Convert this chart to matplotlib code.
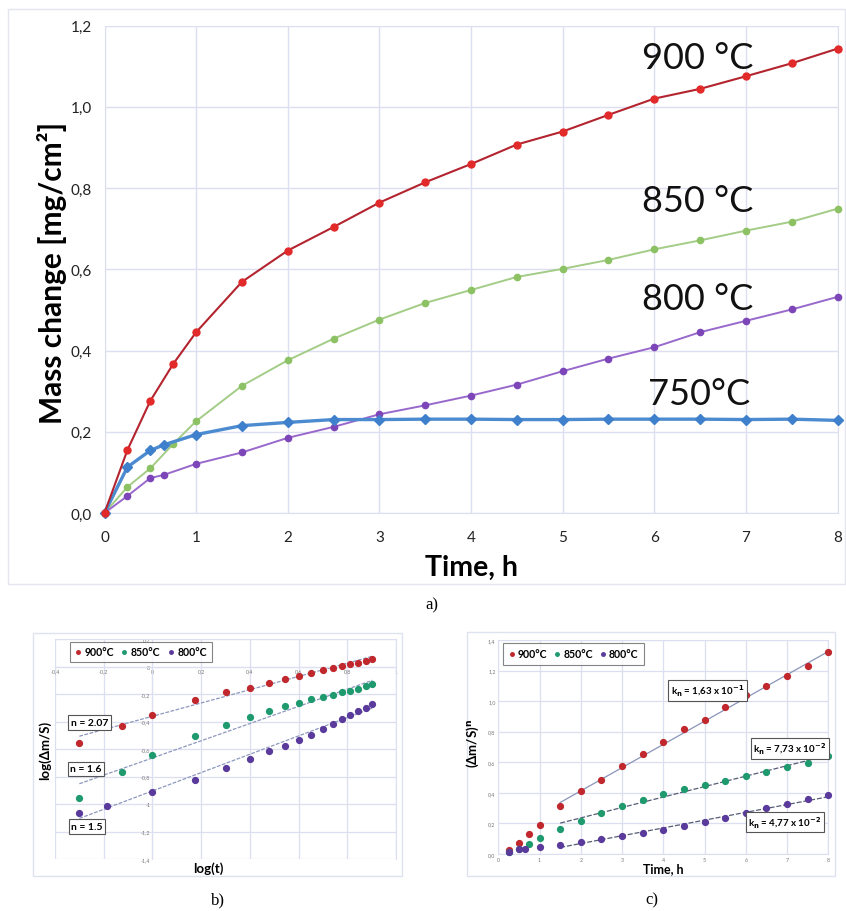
import numpy as np
import matplotlib
matplotlib.use("Agg")
import matplotlib.pyplot as plt
from matplotlib.patches import Rectangle
from matplotlib.ticker import FuncFormatter

plt.rcParams['font.family'] = ['Lato', 'DejaVu Sans']
plt.rcParams['mathtext.fontset'] = 'dejavusans'

# ---------------- data: panel a ----------------
time_rg = [0, 0.25, 0.5, 0.75, 1, 1.5, 2, 2.5, 3, 3.5, 4, 4.5, 5, 5.5, 6, 6.5, 7, 7.5, 8]
time_pb = [0, 0.25, 0.5, 0.65, 1, 1.5, 2, 2.5, 3, 3.5, 4, 4.5, 5, 5.5, 6, 6.5, 7, 7.5, 8]
mass_900 = [0, 0.155, 0.276, 0.367, 0.445, 0.569, 0.646, 0.704, 0.764, 0.814, 0.859,
            0.907, 0.939, 0.980, 1.020, 1.044, 1.075, 1.107, 1.143]
mass_850 = [0, 0.064, 0.110, 0.170, 0.226, 0.313, 0.376, 0.429, 0.476, 0.517, 0.549,
            0.581, 0.601, 0.623, 0.649, 0.671, 0.695, 0.717, 0.749]
mass_800 = [0, 0.042, 0.086, 0.094, 0.121, 0.149, 0.185, 0.212, 0.243, 0.265, 0.289,
            0.316, 0.349, 0.380, 0.408, 0.445, 0.473, 0.501, 0.532]
mass_750 = [0, 0.113, 0.154, 0.168, 0.193, 0.215, 0.223, 0.230, 0.230, 0.231, 0.231,
            0.230, 0.230, 0.231, 0.231, 0.231, 0.230, 0.231, 0.228]
labels_a = ["900 °C", "850 °C", "800 °C", "750°C"]

# ---------------- data: panel b ----------------
logt_rg = [-0.30, -0.125, 0, 0.176, 0.30, 0.40, 0.477, 0.544, 0.602, 0.653, 0.70,
           0.74, 0.778, 0.813, 0.845, 0.875, 0.903]
logt_p = [-0.30, -0.187, 0, 0.176, 0.30, 0.40, 0.477, 0.544, 0.602, 0.653, 0.70,
          0.74, 0.778, 0.813, 0.845, 0.875, 0.903]
logm_900 = [-0.558, -0.434, -0.352, -0.247, -0.189, -0.155, -0.119, -0.092, -0.068,
            -0.044, -0.029, -0.012, 0.005, 0.015, 0.029, 0.041, 0.053]
logm_850 = [-0.958, -0.764, -0.647, -0.502, -0.427, -0.366, -0.320, -0.288, -0.262,
            -0.238, -0.221, -0.206, -0.189, -0.175, -0.160, -0.145, -0.126]
logm_800 = [-1.064, -1.018, -0.914, -0.822, -0.735, -0.672, -0.616, -0.575, -0.538,
            -0.499, -0.456, -0.419, -0.385, -0.354, -0.322, -0.300, -0.276]
n_labels = ["n = 2.07", "n = 1.6", "n = 1.5"]
n_slope = [0.483, 0.625, 0.667]
n_intercept = [-0.362, -0.665, -0.905]

# ---------------- data: panel c ----------------
tc_rg = [0.25, 0.5, 0.75, 1, 1.5, 2, 2.5, 3, 3.5, 4, 4.5, 5, 5.5, 6, 6.5, 7, 7.5, 8]
tc_p = [0.25, 0.5, 0.65, 1, 1.5, 2, 2.5, 3, 3.5, 4, 4.5, 5, 5.5, 6, 6.5, 7, 7.5, 8]
mn_900 = [0.028, 0.072, 0.131, 0.192, 0.313, 0.409, 0.485, 0.576, 0.654, 0.733, 0.820,
          0.876, 0.961, 1.043, 1.096, 1.163, 1.233, 1.320]
mn_850 = [0.012, 0.030, 0.065, 0.105, 0.163, 0.217, 0.270, 0.313, 0.354, 0.391, 0.428,
          0.452, 0.478, 0.511, 0.537, 0.570, 0.596, 0.639]
mn_800 = [0.013, 0.033, 0.033, 0.046, 0.059, 0.080, 0.098, 0.120, 0.137, 0.159, 0.180,
          0.211, 0.237, 0.267, 0.300, 0.330, 0.357, 0.389]
kn_labels = [r"k$_{\mathbf{n}}$ = 1,63 x 10$^{\mathbf{-1}}$",
             r"k$_{\mathbf{n}}$ = 7,73 x 10$^{\mathbf{-2}}$",
             r"k$_{\mathbf{n}}$ = 4,77 x 10$^{\mathbf{-2}}$"]
kn_slope = [0.152, 0.0683, 0.051]
kn_intercept = [0.109, 0.0995, -0.0335]
legend_labels = ["900°C", "850°C", "800°C"]

# ---------------- layout helpers ----------------
W, H = 846, 912
fig = plt.figure(figsize=(W / 100, H / 100), dpi=100)
fig.patch.set_facecolor("white")


def rect(l, t, r, b):
    return [l / W, 1 - b / H, (r - l) / W, (b - t) / H]


def ftext(x, y, s, **kw):
    return fig.text(x / W, 1 - y / H, s, **kw)


def frame(l, t, r, b, color="#dfe2ef"):
    fig.patches.append(Rectangle((l / W, 1 - b / H), (r - l) / W, (b - t) / H,
                                 transform=fig.transFigure, fill=False,
                                 ec=color, lw=1.0))


def comma(v, dec=1, strip=False):
    s = f"{v:.{dec}f}"
    if strip and s.endswith(".0"):
        s = s[:-2]
    s = s.replace(".", ",")
    if s in ("-0", "-0,0"):
        s = s.lstrip("-")
    return s


GRID = "#dcdff0"

# ================= panel a =================
frame(8, 10, 845, 585, "#e3e5f0")
ax = fig.add_axes(rect(104.5, 26.5, 837.5, 514))
ax.set_xlim(0, 8)
ax.set_ylim(0, 1.2)
ax.set_xticks(range(9))
ax.set_yticks(np.round(np.arange(0, 1.21, 0.2), 1))
ax.yaxis.set_major_formatter(FuncFormatter(lambda v, p: comma(v)))
ax.grid(True, color=GRID, lw=1)
ax.set_axisbelow(True)
for s in ax.spines.values():
    s.set_color(GRID)
ax.tick_params(length=0, labelsize=11, colors="#222222")
ax.tick_params(axis="x", pad=12)
ax.tick_params(axis="y", pad=9)

ax.plot(time_rg, mass_850, color="#a3cc86", lw=1.4, marker="o", ms=4.5,
        mfc="#8cc264", mec="#8cc264", clip_on=False, zorder=3)
ax.plot(time_pb, mass_800, color="#9868cc", lw=1.4, marker="o", ms=4.5,
        mfc="#7d46b8", mec="#7d46b8", clip_on=False, zorder=3)
ax.plot(time_pb, mass_750, color="#4c8bd0", lw=2.4, marker="D", ms=5,
        mfc="#3f80cc", mec="#3f80cc", clip_on=False, zorder=4)
ax.plot(time_rg, mass_900, color="#b3242f", lw=1.5, marker="o", ms=5,
        mfc="#e22a2a", mec="#e22a2a", clip_on=False, zorder=5)

label_pos = [(5.87, 1.121), (5.87, 0.768), (5.87, 0.528), (5.93, 0.294)]
for (x, y), s in zip(label_pos, labels_a):
    ax.text(x, y, s, fontsize=26, ha="left", va="center", color="#111111")

ftext(52, 273, "Mass change [mg/cm²]", rotation=90, ha="center", va="center",
      fontsize=21.5, fontweight="bold")
ftext(471, 568, "Time, h", ha="center", va="center", fontsize=20.5,
      fontweight="bold")
ftext(432, 605, "a)", ha="center", va="center", fontsize=12,
      family=["Liberation Serif", "DejaVu Serif"])

# ================= panel b =================
RED2, GRN2, PUR2 = "#c1282d", "#1f9a6e", "#5a3b9c"
frame(33, 634, 402, 877)
bx = fig.add_axes(rect(55, 640, 396, 860))
bx.set_xlim(-0.4, 1.0)
bx.set_ylim(-1.4, 0.2)
bx.set_xticks(np.round(np.arange(-0.4, 1.01, 0.2), 1))
bx.set_yticks(np.round(np.arange(-1.4, 0.21, 0.2), 1))
fmt_b = FuncFormatter(lambda v, p: comma(v, strip=True))
bx.xaxis.set_major_formatter(fmt_b)
bx.yaxis.set_major_formatter(fmt_b)
bx.spines["left"].set_position(("data", 0))
bx.spines["bottom"].set_position(("data", 0))
for s in bx.spines.values():
    s.set_color(GRID)
bx.grid(True, color=GRID, lw=0.9)
bx.set_axisbelow(True)
bx.tick_params(length=0, labelsize=3.8, colors="#777777", pad=1.5)

x0, x1 = min(logt_rg), max(logt_rg)
for sl, ic in zip(n_slope, n_intercept):
    bx.plot([x0, x1], [ic + sl * x0, ic + sl * x1], color="#8d98bd", lw=0.9,
            ls=(0, (3, 1.2)), zorder=2)
bx.plot(logt_rg, logm_900, "o", color=RED2, ms=4.2, label=legend_labels[0], zorder=3)
bx.plot(logt_rg, logm_850, "o", color=GRN2, ms=4.2, label=legend_labels[1], zorder=3)
bx.plot(logt_p, logm_800, "o", color=PUR2, ms=4.2, label=legend_labels[2], zorder=3)

n_pos = [(-0.258, -0.407), (-0.273, -0.745), (-0.269, -1.164)]
for (x, y), s in zip(n_pos, n_labels):
    bx.text(x, y, s, fontsize=7.5, fontweight="bold", ha="center", va="center",
            bbox=dict(boxstyle="square,pad=0.25", fc="white", ec="#555555", lw=0.8),
            zorder=6)

leg = bx.legend(loc="upper left", bbox_to_anchor=(0.044, 0.988), ncol=3,
                frameon=True, fancybox=False, edgecolor="#666666",
                prop=dict(weight="bold", size=7.6), markerscale=0.6,
                handlelength=0.6, handletextpad=0.3, columnspacing=0.7,
                borderpad=0.45, borderaxespad=0)
leg.get_frame().set_linewidth(0.8)

ftext(45, 750, "log(Δm/S)", rotation=90, ha="center", va="center",
      fontsize=9.5, fontweight="bold")
ftext(208, 869, "log(t)", ha="center", va="center", fontsize=9.5,
      fontweight="bold")
ftext(218, 900, "b)", ha="center", va="center", fontsize=12,
      family=["Liberation Serif", "DejaVu Serif"])

# ================= panel c =================
frame(467, 633, 835, 877)
cx = fig.add_axes(rect(498.3, 641, 828.3, 855))
cx.set_xlim(0, 8)
cx.set_ylim(0, 1.4)
cx.set_xticks(range(9))
cx.set_yticks(np.round(np.arange(0, 1.41, 0.2), 1))
cx.yaxis.set_major_formatter(FuncFormatter(lambda v, p: comma(v)))
for s in cx.spines.values():
    s.set_color(GRID)
cx.grid(True, color=GRID, lw=0.9)
cx.set_axisbelow(True)
cx.tick_params(length=0, labelsize=3.8, colors="#777777", pad=2)

t0, t1 = 1.5, 8
line_styles = [dict(color="#8a94b8", lw=0.9, ls="-"),
               dict(color="#555d75", lw=0.9, ls=(0, (4, 1.5))),
               dict(color="#555d75", lw=0.9, ls=(0, (4, 1.5)))]
for sl, ic, st in zip(kn_slope, kn_intercept, line_styles):
    cx.plot([t0, t1], [ic + sl * t0, ic + sl * t1], zorder=2, **st)
cx.plot(tc_rg, mn_900, "o", color=RED2, ms=4.2, label=legend_labels[0], zorder=3, clip_on=False)
cx.plot(tc_rg, mn_850, "o", color=GRN2, ms=4.2, label=legend_labels[1], zorder=3, clip_on=False)
cx.plot(tc_p, mn_800, "o", color=PUR2, ms=4.2, label=legend_labels[2], zorder=3, clip_on=False)

kn_pos = [(5.07, 1.069), (7.06, 0.69), (6.94, 0.209)]
for (x, y), s in zip(kn_pos, kn_labels):
    cx.text(x, y, s, fontsize=7, fontweight="bold", ha="center", va="center",
            bbox=dict(boxstyle="square,pad=0.25", fc="white", ec="#555555", lw=0.8),
            zorder=6)

leg = cx.legend(loc="upper left", bbox_to_anchor=(0.015, 0.986), ncol=3,
                frameon=True, fancybox=False, edgecolor="#666666",
                prop=dict(weight="bold", size=7.6), markerscale=0.6,
                handlelength=0.6, handletextpad=0.3, columnspacing=0.6,
                borderpad=0.5, borderaxespad=0)
leg.get_frame().set_linewidth(0.8)

ftext(473, 743, r"(Δm/S)$^{\mathbf{n}}$", rotation=90, ha="center", va="center",
      fontsize=9.5, fontweight="bold")
ftext(663, 869.5, "Time, h", ha="center", va="center", fontsize=9,
      fontweight="bold")
ftext(652, 900, "c)", ha="center", va="center", fontsize=12,
      family=["Liberation Serif", "DejaVu Serif"])

fig.savefig("out.png", dpi=100, facecolor="white")
